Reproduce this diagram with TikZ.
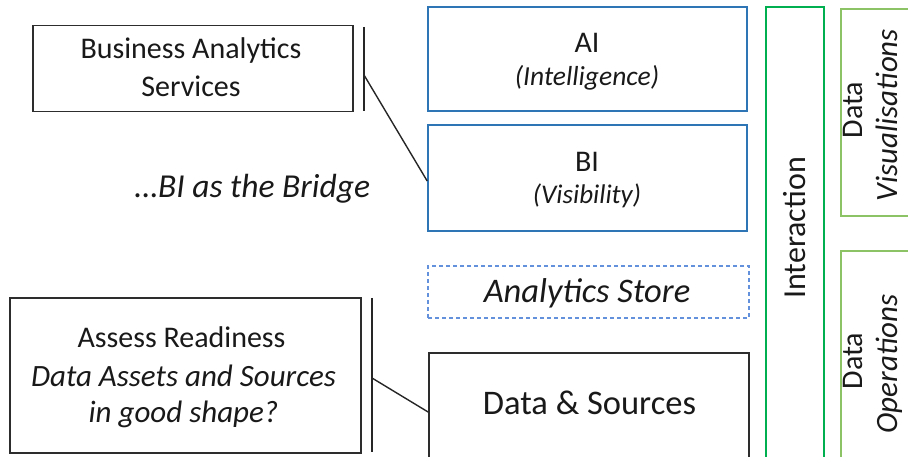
\documentclass[tikz,border=0pt]{standalone}
\usepackage{fontspec}
\setmainfont{Carlito}
\definecolor{aiblue}{RGB}{46,117,182}
\definecolor{dashblue}{RGB}{100,145,220}
\definecolor{intgreen}{RGB}{0,176,80}
\definecolor{datagreen}{RGB}{140,195,100}
\definecolor{boxgray}{RGB}{45,45,45}
\tikzset{
  frame/.style={draw, inner sep=0pt, line width=1.6bp},
  bluebox/.style={frame, draw=aiblue},
  dashbox/.style={frame, draw=dashblue, dashed, dash pattern=on 4bp off 3bp, line width=1.3bp},
  greenbox/.style={frame, draw=intgreen},
  lgreenbox/.style={frame, draw=datagreen},
  graybox/.style={frame, draw=boxgray, line width=1.8bp},
  lbl/.style={font=\fontsize{#1bp}{#1bp}\selectfont, anchor=base, inner sep=0pt, text=black!90},
  conn/.style={draw=black!85, line width=1.4bp},
}
\begin{document}
\begin{tikzpicture}[x=1bp,y=-1bp]
\useasboundingbox (0,0) rectangle (908,457);
\clip (0,0) rectangle (908,457);

% middle column
\node[bluebox, minimum width=319bp, minimum height=104bp] (ai) at (587.5,59) {};
\node[bluebox, minimum width=319bp, minimum height=106bp] (bi) at (587.5,178) {};
\node[dashbox, minimum width=321bp, minimum height=52bp] (store) at (588.5,292) {};
\node[graybox, minimum width=320bp, minimum height=118bp] (ds) at (589,412) {};

\node[lbl=30] (aiT) at (587,53) {AI};
\node[lbl=27.5] (aiS) at (587,86) {\itshape (Intelligence)};
\node[lbl=30] (biT) at (587,172) {BI};
\node[lbl=27] (biS) at (587,204) {\itshape (Visibility)};
\node[lbl=34.5] (storeT) at (587,303) {\itshape Analytics Store};
\node[lbl=34.5] (dsT) at (589.5,414) {Data \& Sources};

% right column
\node[greenbox, minimum width=58bp, minimum height=453bp] (inter) at (795,233.5) {};
\node[lbl=32, rotate=90] (interT) at (805,228) {Interaction};
\node[lgreenbox, minimum width=99bp, minimum height=207bp] (vis) at (890.5,112.5) {};
\node[lbl=30, rotate=90] (visA) at (862,110) {Data};
\node[lbl=31, rotate=90] (visB) at (897,115) {\itshape Visualisations};
\node[lgreenbox, minimum width=99bp, minimum height=220bp] (ops) at (890.5,361) {};
\node[lbl=30, rotate=90] (opsA) at (862,361) {Data};
\node[lbl=31, rotate=90] (opsB) at (897,364) {\itshape Operations};

% left column
\node[graybox, minimum width=320bp, minimum height=86bp] (bas) at (193,68.5) {};
\node[lbl=30] (basA) at (191,59) {Business Analytics};
\node[lbl=30] (basB) at (191,97) {Services};
\node[lbl=33.5] (bridge) at (252.5,198) {\itshape \dots BI as the Bridge};

\node[graybox, minimum width=351bp, minimum height=155bp] (assess) at (185.5,375.5) {};
\node[lbl=30] (asA) at (181.5,348) {Assess Readiness};
\node[lbl=31] (asB) at (183.5,387) {\itshape Data Assets and Sources};
\node[lbl=31] (asC) at (183.5,422) {\itshape in good shape?};

% brackets and connectors
\coordinate (b1top) at (364,27);
\coordinate (b1bot) at (364,111);
\coordinate (b1mid) at (364,75);
\draw[conn] (b1top) -- (b1bot);
\draw[conn] (b1mid) -- ([yshift=-3bp]bi.west);

\coordinate (b2top) at (372,298);
\coordinate (b2bot) at (372,452);
\coordinate (b2mid) at (372,378);
\draw[conn] (b2top) -- (b2bot);
\draw[conn] (b2mid) -- (ds.west);
\end{tikzpicture}
\end{document}
